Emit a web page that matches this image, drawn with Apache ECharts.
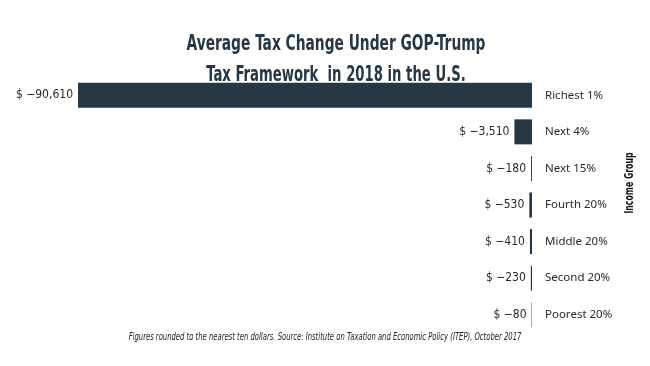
<!DOCTYPE html>
<html>
<head>
<meta charset="utf-8">
<script src="https://cdn.jsdelivr.net/npm/echarts@6/dist/echarts.min.js"></script>
<style>
html,body{margin:0;padding:0;background:#fff;}
#chart{width:650px;height:366px;}
</style>
</head>
<body>
<div id="chart"></div>
<script>
const categories = ['Richest 1%', 'Next 4%', 'Next 15%', 'Fourth 20%', 'Middle 20%', 'Second 20%', 'Poorest 20%'];
const taxChange = [-90610, -3510, -180, -530, -410, -230, -80];
const titleLines = ['Average Tax Change Under GOP-Trump', 'Tax Framework  in 2018 in the U.S.'];
const axisTitle = 'Income Group';
const footnote = 'Figures rounded to the nearest ten dollars. Source: Institute on Taxation and Economic Policy (ITEP), October 2017';

const COND = '"DejaVu Sans Condensed", "Liberation Sans Narrow", sans-serif';
const dark = '#263845';

const chart = echarts.init(document.getElementById('chart'));
chart.setOption({
  animation: false,
  backgroundColor: '#fff',
  grid: { left: 78, right: 118, top: 77, bottom: 33, containLabel: false },
  xAxis: { type: 'value', min: -90610, max: 0, show: false },
  yAxis: {
    type: 'category',
    data: categories,
    position: 'right',
    inverse: true,
    axisLine: { show: false },
    axisTick: { show: false },
    splitLine: { show: false },
    axisLabel: { margin: 13, color: '#2a2a2a', fontSize: 11.5, fontFamily: '"Noto Sans", sans-serif' }
  },
  series: [{
    type: 'bar',
    data: taxChange,
    barWidth: 25,
    itemStyle: { color: dark },
    label: {
      show: true,
      position: 'left',
      distance: 5,
      color: '#2a2a2a',
      fontSize: 12,
      fontFamily: COND,
      formatter: p => '$ \u2212' + Math.abs(p.value).toLocaleString('en-US')
    }
  }],
  graphic: [
    {
      type: 'text', x: 336, y: 45, scaleX: 0.73,
      style: { text: titleLines[0], fontFamily: COND, fontWeight: 'bold', fontSize: 21, fill: dark, align: 'center', verticalAlign: 'middle' }
    },
    {
      type: 'text', x: 336, y: 76, scaleX: 0.7,
      style: { text: titleLines[1], fontFamily: COND, fontWeight: 'bold', fontSize: 21, fill: dark, align: 'center', verticalAlign: 'middle' }
    },
    {
      type: 'text', x: 630, y: 183, rotation: Math.PI / 2, scaleX: 0.72,
      style: { text: axisTitle, fontFamily: COND, fontWeight: 'bold', fontSize: 12, fill: '#111', align: 'center', verticalAlign: 'middle' }
    },
    {
      type: 'text', x: 325, y: 337, scaleX: 0.69,
      style: { text: footnote, fontFamily: COND, fontStyle: 'italic', fontSize: 11, fill: '#222', align: 'center', verticalAlign: 'middle' }
    }
  ]
});
</script>
</body>
</html>
